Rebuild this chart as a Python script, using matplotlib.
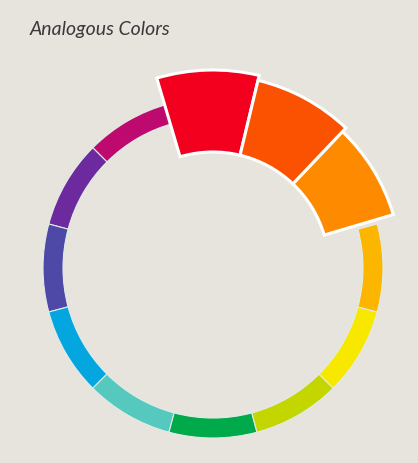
import matplotlib
matplotlib.use("Agg")
import matplotlib.pyplot as plt

# colour wheel, counterclockwise starting from red at the top
names = ["red", "red-violet", "violet", "blue-violet", "blue", "blue-green",
         "green", "yellow-green", "yellow", "yellow-orange", "orange", "red-orange"]
colors = ["#F2001E", "#BE0A6E", "#6C2A9E", "#4E48A6", "#04A6DF", "#55C9BE",
          "#00AA4A", "#C4D600", "#F8E800", "#FDB600", "#FE8A00", "#FA5200"]
values = [1] * 12
highlight = ["red", "red-orange", "orange"]

bg = "#E7E4DE"
W, H = 418, 463
fig = plt.figure(figsize=(W / 100, H / 100), dpi=100, facecolor=bg)
ax = fig.add_axes([0, 0, 1, 1])
ax.set_facecolor(bg)

center = (213, H - 268)
inner_hl = 116
# outer radius of the enlarged pieces (the source art is slightly skewed)
outer_hl = {"red": 198, "red-orange": 193, "orange": 188}

# base ring (hidden where the enlarged pieces sit)
ring, _ = ax.pie(values, colors=colors, startangle=75, counterclock=True,
                 radius=170, center=center, frame=True,
                 wedgeprops=dict(width=20, edgecolor="#E2ECE6", linewidth=0.8))
for w, n in zip(ring, names):
    if n in highlight:
        w.set_visible(False)

# enlarged analogous segments
wedges, _ = ax.pie(values, colors=colors, startangle=76.5, counterclock=True,
                   radius=195, center=center, frame=True,
                   wedgeprops=dict(width=78, edgecolor="white", linewidth=2.2))
for w, n in zip(wedges, names):
    if n in highlight:
        w.set_radius(outer_hl[n])
        w.set_width(outer_hl[n] - inner_hl)
        w.set_zorder(3)
    else:
        w.set_visible(False)

ax.set_xlim(0, W)
ax.set_ylim(0, H)
ax.set_aspect("equal")
ax.axis("off")

ax.text(30, H - 30, "Analogous Colors", family="Lato", style="italic",
        fontsize=14, color="#3A3A3A", ha="left", va="center")

fig.savefig("out.png", dpi=100, facecolor=bg)
